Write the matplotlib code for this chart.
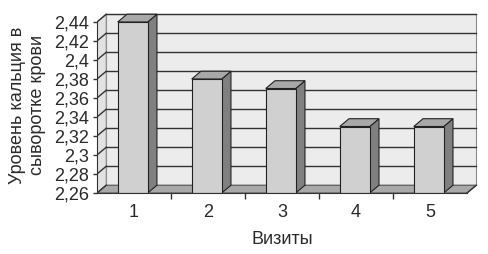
import matplotlib.pyplot as plt
from matplotlib.patches import Polygon

plt.rcParams['font.family'] = ['Liberation Sans', 'DejaVu Sans']
plt.rcParams['text.color'] = '#2a2a2a'
plt.rcParams['xtick.color'] = '#2a2a2a'
plt.rcParams['ytick.color'] = '#2a2a2a'

visits = ["1", "2", "3", "4", "5"]
calcium = [2.44, 2.38, 2.37, 2.33, 2.33]
yticks = [2.26, 2.28, 2.30, 2.32, 2.34, 2.36, 2.38, 2.40, 2.42, 2.44]

ymin, ymax = 2.26, 2.44
dx, dy = 0.125, 0.0082      # 3D depth offset (category units, value units)
bar_w = 0.405
bar_off = 0.28

fig = plt.figure(figsize=(4.88, 2.54), dpi=100)
ax = fig.add_axes([97/488, 61/254, 383/488, 183/254])
n = len(visits)
ax.set_xlim(-0.5, n - 0.5 + 0.175)
ax.set_ylim(ymin, ymin + (ymax - ymin) * 183 / 171)

left, right = -0.5, n - 0.5

# back wall
ax.add_patch(Polygon([(left + dx, ymin + dy), (right + dx, ymin + dy),
                      (right + dx, ymax + dy), (left + dx, ymax + dy)],
                     closed=True, fc="#ececec", ec="#8a8a8a", lw=0.8, zorder=1))
# left wall
ax.add_patch(Polygon([(left, ymin), (left + dx, ymin + dy),
                      (left + dx, ymax + dy), (left, ymax)],
                     closed=True, fc="#e2e2e2", ec="#8a8a8a", lw=0.8, zorder=1))
# floor
ax.add_patch(Polygon([(left, ymin), (right, ymin),
                      (right + dx, ymin + dy), (left + dx, ymin + dy)],
                     closed=True, fc="#a9a9a9", ec="#555555", lw=0.8, zorder=2))

# gridlines on back wall and depth lines on left wall
for t in yticks[1:]:
    ax.plot([left + dx, right + dx], [t + dy, t + dy], color="#333333", lw=1.0, zorder=2)
for t in yticks:
    ax.plot([left, left + dx], [t, t + dy], color="#333333", lw=1.0, zorder=2)

# bars
for i, v in enumerate(calcium):
    x0 = i - 0.5 + bar_off
    x1 = x0 + bar_w
    ax.add_patch(Polygon([(x1, ymin), (x1 + dx, ymin + dy), (x1 + dx, v + dy), (x1, v)],
                         closed=True, fc="#808080", ec="#222222", lw=0.8, zorder=3))
    ax.add_patch(Polygon([(x0, v), (x1, v), (x1 + dx, v + dy), (x0 + dx, v + dy)],
                         closed=True, fc="#a8a8a8", ec="#222222", lw=0.8, zorder=3))
    ax.add_patch(Polygon([(x0, ymin), (x1, ymin), (x1, v), (x0, v)],
                         closed=True, fc="#d0d0d0", ec="#222222", lw=0.8, zorder=4))

# right end depth line of the floor
ax.plot([right, right + dx], [ymin, ymin + dy], color="#333333", lw=1.0, zorder=2)

for s in ["top", "right"]:
    ax.spines[s].set_visible(False)
ax.spines["left"].set_bounds(ymin, ymax)
ax.spines["bottom"].set_bounds(left, right)
ax.spines["left"].set_color("#333333")
ax.spines["bottom"].set_color("#333333")
ax.spines["left"].set_zorder(5)
ax.spines["bottom"].set_zorder(5)
ax.patch.set_visible(False)

ax.set_yticks(yticks)
ax.set_yticklabels([f"{round(t, 2):g}".replace(".", ",") for t in yticks], fontsize=13)
ax.tick_params(axis="y", length=3, width=1, color="#333333", pad=3)

ax.set_xticks([i + 0.5 for i in range(n - 1)])
ax.set_xticklabels([])
ax.tick_params(axis="x", length=4, width=1, color="#333333")
ax.set_xticks(range(n), minor=True)
ax.set_xticklabels(visits, minor=True, fontsize=13)
ax.tick_params(axis="x", which="minor", length=0, pad=8)

fig.text(282/488, 1 - 240/254, "Визиты", ha="center", va="center", fontsize=13)
fig.text(27.5/488, 1 - 105/254, "Уровень кальция в\nсыворотке крови", rotation=90,
         ha="center", va="center", fontsize=13, multialignment="center", linespacing=1.25)

fig.savefig("out.png", dpi=100)
